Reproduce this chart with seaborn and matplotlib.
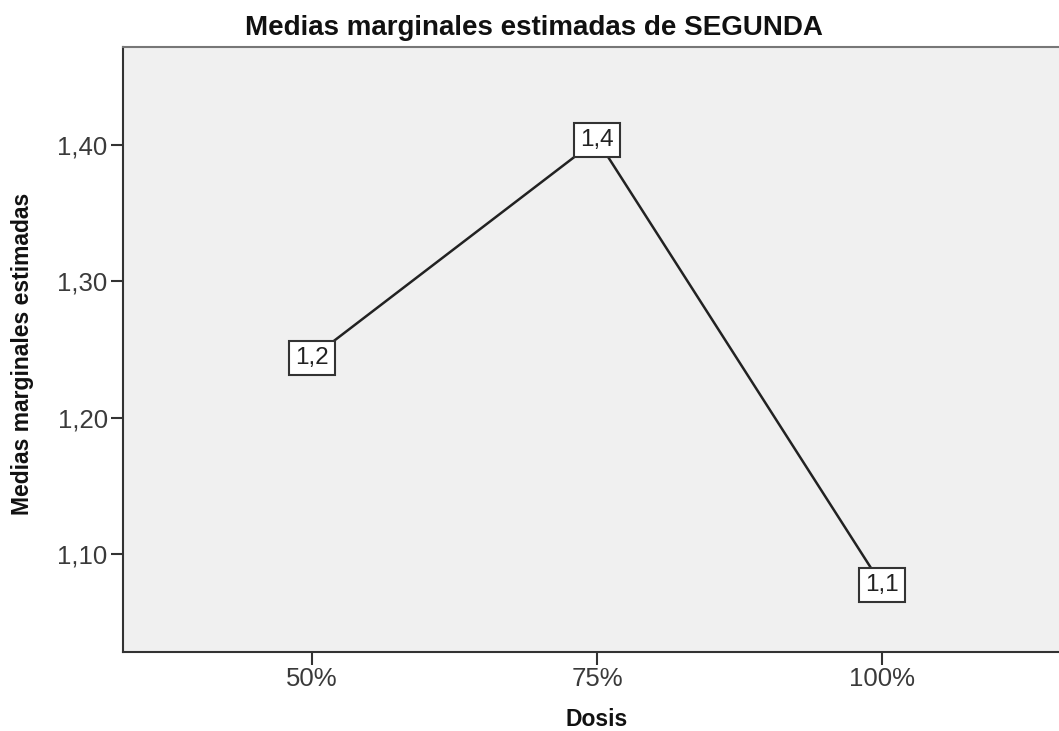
import pandas as pd
import matplotlib
matplotlib.use("Agg")
import matplotlib.pyplot as plt
import seaborn as sns

# valores
dosis = ["50%", "75%", "100%"]
medias = [1.244, 1.404, 1.077]
yticks = [1.10, 1.20, 1.30, 1.40]

df = pd.DataFrame({"Dosis": dosis, "Media": medias})

sns.set_style("white")
plt.rcParams["font.family"] = ["Liberation Sans", "DejaVu Sans"]

fig = plt.figure(figsize=(10.59, 7.31), dpi=100)
ax = fig.add_axes([123 / 1059, 79 / 731, (1071 - 123) / 1059, (652 - 47) / 731])
ax.set_facecolor("#F0F0F0")

sns.lineplot(data=df, x="Dosis", y="Media", ax=ax, color="#222222",
             linewidth=1.8, sort=False)

for i, v in enumerate(medias):
    ax.annotate(f"{v:.1f}".replace(".", ","), (i, v), ha="center", va="center",
                fontsize=17.5, color="#222222",
                bbox=dict(boxstyle="square,pad=0.25", fc="white", ec="#333333", lw=1.5))

ax.set_xlim(-0.663, 2.663)
ax.set_ylim(1.028, 1.472)
ax.set_yticks(yticks)
ax.set_yticklabels([f"{t:.2f}".replace(".", ",") for t in yticks])
ax.tick_params(axis="both", direction="out", length=9, width=1.5, color="#333333",
               labelsize=18.5, labelcolor="#3a3a3a", pad=2, left=True, bottom=True)

for s in ["left", "bottom"]:
    ax.spines[s].set_color("#333333")
    ax.spines[s].set_linewidth(1.5)
ax.spines["top"].set_color("#777777")
ax.spines["top"].set_linewidth(1.5)
ax.spines["right"].set_visible(False)

ax.set_xlabel("")
ax.set_ylabel("")
fig.text(534 / 1059, 1 - 28 / 731, "Medias marginales estimadas de SEGUNDA",
         ha="center", va="center", fontsize=20, fontweight="bold", color="#111111")
fig.text(597 / 1059, 1 - 719 / 731, "Dosis", ha="center", va="center",
         fontsize=16.5, fontweight="bold", color="#111111")
fig.text(23 / 1059, 1 - 354 / 731, "Medias marginales estimadas", ha="center", va="center",
         rotation=90, fontsize=16.5, fontweight="bold", color="#111111")

fig.savefig("out.png", dpi=100)
